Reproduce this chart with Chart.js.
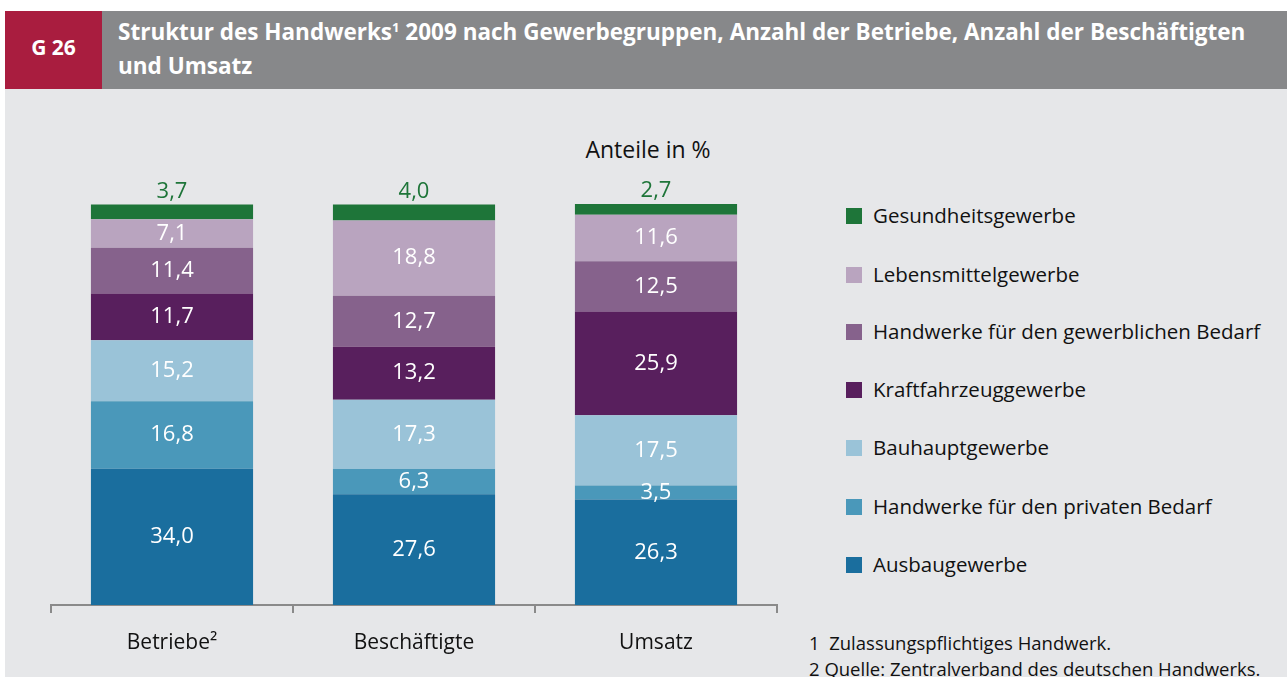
<!DOCTYPE html>
<html><head><meta charset="utf-8">
<script src="https://cdn.jsdelivr.net/npm/chart.js@4.4.0/dist/chart.umd.min.js"></script>
<style>
html,body{margin:0;padding:0;background:#fff;width:1287px;height:677px;overflow:hidden;font-family:"Open Sans",sans-serif;}
#red{position:absolute;left:5px;top:11px;width:97px;height:78px;background:#a91d3f;color:#fff;font-weight:bold;font-size:21px;display:flex;align-items:center;justify-content:center;padding-bottom:6px;box-sizing:border-box;}
#head{position:absolute;left:102px;top:11px;width:1185px;height:78px;background:#87888a;color:#fff;font-weight:bold;font-size:22.5px;line-height:34px;box-sizing:border-box;padding:4px 0 0 16px;white-space:nowrap;}
#head sup{font-size:13px;vertical-align:top;position:relative;top:-5px;}
#bg{position:absolute;left:5px;top:89px;width:1282px;height:588px;background:#e6e7e9;}
#wrap{position:absolute;left:0;top:89px;width:800px;height:588px;}
#unit{position:absolute;left:548px;top:133px;width:200px;text-align:center;font-size:23px;color:#111;}
#legend{position:absolute;left:846px;top:0;}
.li{position:absolute;left:0;white-space:nowrap;font-size:20.5px;color:#111;}
.sw{position:absolute;left:0;top:0;width:16px;height:16px;}
.lt{position:absolute;left:27px;top:-7px;}
.fn{position:absolute;left:809px;font-size:18.5px;color:#111;white-space:nowrap;}
</style></head><body>
<div id="red">G 26</div>
<div id="head">Struktur des Handwerks<sup>1</sup> 2009 nach Gewerbegruppen, Anzahl der Betriebe, Anzahl der Beschäftigten<br>und Umsatz</div>
<div id="bg"></div>
<div id="unit">Anteile in %</div>
<div id="wrap"><canvas id="c" width="800" height="588"></canvas></div>
<div id="legend"></div>
<div class="fn" style="top:630px">1&nbsp; Zulassungspflichtiges Handwerk.</div>
<div class="fn" style="top:656px">2 Quelle: Zentralverband des deutschen Handwerks.</div>
<script>
const categories = ["Betriebe\u00B2", "Beschäftigte", "Umsatz"];
const seriesNames = ["Ausbaugewerbe", "Handwerke für den privaten Bedarf", "Bauhauptgewerbe", "Kraftfahrzeuggewerbe", "Handwerke für den gewerblichen Bedarf", "Lebensmittelgewerbe", "Gesundheitsgewerbe"];
const ausbau = [34.0, 27.6, 26.3];
const privat = [16.8, 6.3, 3.5];
const bauhaupt = [15.2, 17.3, 17.5];
const kfz = [11.7, 13.2, 25.9];
const gewerblich = [11.4, 12.7, 12.5];
const lebensmittel = [7.1, 18.8, 11.6];
const gesundheit = [3.7, 4.0, 2.7];
const colors = ["#1a6e9e", "#4a98ba", "#9ac3d8", "#581f5d", "#86628c", "#b9a4bf", "#1e7539"];
const seriesValues = [ausbau, privat, bauhaupt, kfz, gewerblich, lebensmittel, gesundheit];

const fmt = v => v.toFixed(1).replace('.', ',');

const labelPlugin = {
  id: 'segLabels',
  afterDatasetsDraw(chart) {
    const ctx = chart.ctx;
    ctx.save();
    ctx.font = '22px "Open Sans", sans-serif';
    ctx.textAlign = 'center';
    ctx.textBaseline = 'middle';
    chart.data.datasets.forEach((ds, di) => {
      const meta = chart.getDatasetMeta(di);
      meta.data.forEach((bar, i) => {
        const v = ds.data[i];
        const last = di === chart.data.datasets.length - 1;
        if (last) {
          ctx.fillStyle = ds.backgroundColor;
          ctx.fillText(fmt(v), bar.x, bar.y - 13);
        } else {
          ctx.fillStyle = '#ffffff';
          ctx.fillText(fmt(v), bar.x, (bar.y + bar.base) / 2);
        }
      });
    });
    ctx.restore();
  }
};

new Chart(document.getElementById('c'), {
  type: 'bar',
  data: {
    labels: categories,
    datasets: seriesNames.map((n, i) => ({
      label: n, data: seriesValues[i], backgroundColor: colors[i],
      borderWidth: 0, barPercentage: 0.67, categoryPercentage: 1
    }))
  },
  options: {
    responsive: false, animation: false,
    layout: { padding: { left: 51, right: 23, top: 115, bottom: 0 } },
    plugins: { legend: { display: false }, tooltip: { enabled: false } },
    scales: {
      x: {
        stacked: true,
        afterFit(s) { s.height = 72; },
        grid: { offset: true, drawOnChartArea: false, tickLength: 8, color: '#8a8a8a', lineWidth: 2 },
        border: { color: '#8a8a8a', width: 2 },
        ticks: { color: '#111', font: { size: 21, family: '"Open Sans", sans-serif' }, padding: 17 }
      },
      y: { stacked: true, display: false, min: 0, max: 100 }
    }
  },
  plugins: [labelPlugin]
});

const lg = document.getElementById('legend');
const rowY = [216, 275, 332, 390, 448, 507, 565];
for (let k = 0; k < seriesNames.length; k++) {
  const i = seriesNames.length - 1 - k;
  const d = document.createElement('div');
  d.className = 'li';
  d.style.top = (rowY[k] - 8) + 'px';
  d.innerHTML = '<div class="sw" style="background:' + colors[i] + '"></div><div class="lt">' + seriesNames[i] + '</div>';
  lg.appendChild(d);
}
</script>
</body></html>
